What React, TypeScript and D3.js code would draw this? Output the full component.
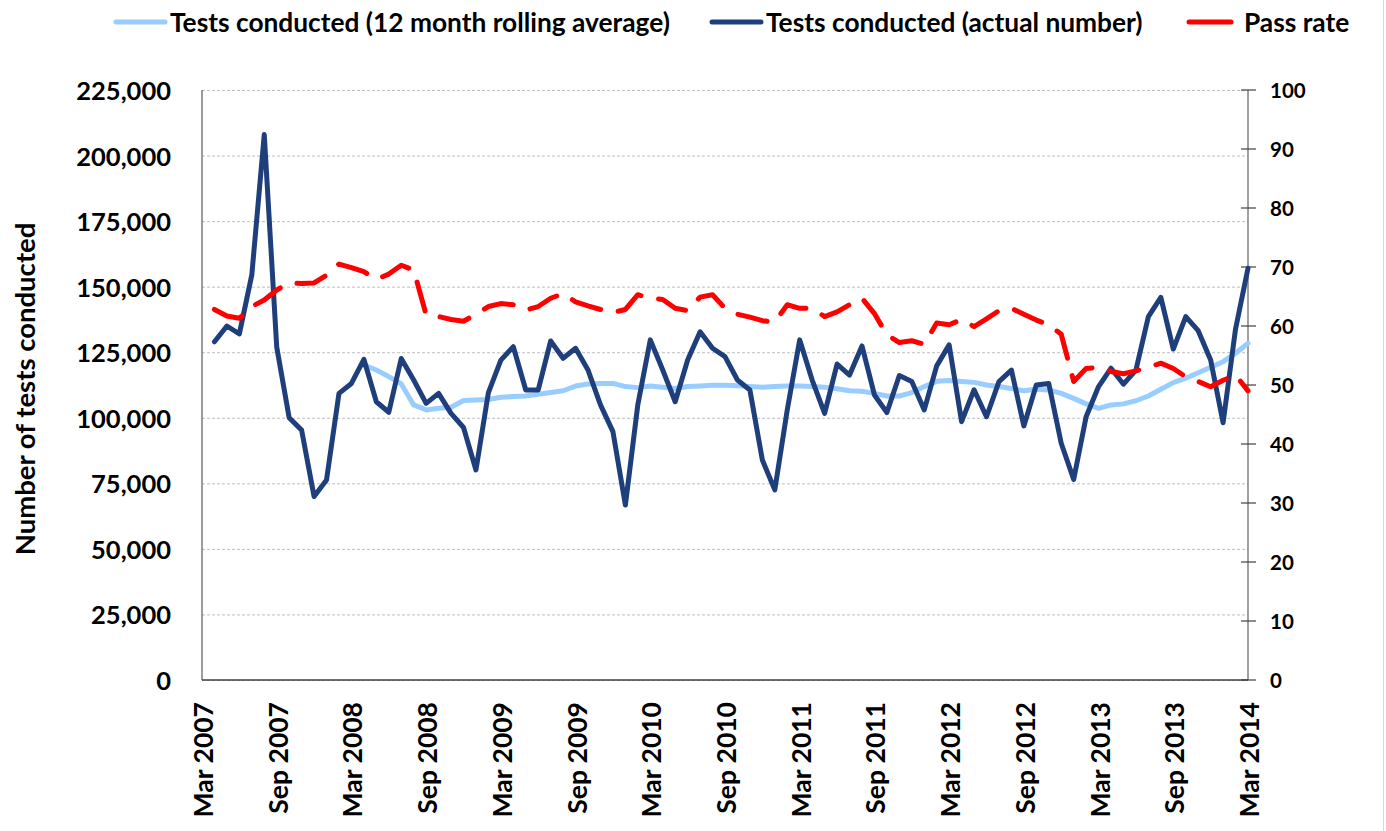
import React from "react";
import * as d3 from "d3";

// Month index 0 = Mar 2007 ... 84 = Mar 2014
const tickLabels = [
  "Mar 2007", "Sep 2007", "Mar 2008", "Sep 2008", "Mar 2009", "Sep 2009", "Mar 2010", "Sep 2010",
  "Mar 2011", "Sep 2011", "Mar 2012", "Sep 2012", "Mar 2013", "Sep 2013", "Mar 2014",
];

// Tests conducted (actual number), Apr 2007 (index 1) .. Mar 2014 (index 84)
const actualStart = 1;
const actualTests = [
  129000, 135000, 132000, 154500, 208000, 127000, 100000, 95300, 70000, 76300, 109300, 113100,
  122300, 106100, 102100, 122600, 114400, 105500, 109300, 101700, 96300, 80100, 109600, 122000,
  127100, 110600, 110600, 129300, 122700, 126500, 118200, 104900, 94700, 66700, 105000, 129700,
  118200, 106100, 122000, 132800, 126500, 123300, 114400, 110600, 83900, 72500, 103000, 129700,
  114400, 101700, 120500, 116300, 127400, 108700, 102000, 116100, 113800, 103000, 119800, 127800,
  98500, 110700, 100400, 113800, 118200, 96900, 112500, 113100, 90300, 76500, 100400, 111900,
  118900, 112800, 118200, 138600, 145900, 126200, 138600, 133200, 122000, 98100, 133900, 157000,
];

// 12 month rolling average, Apr 2008 (index 13) .. Mar 2014
const rollingStart = 13;
const rollingTests = [
  120100, 118200, 115700, 112900, 104900, 103000, 103600, 104000, 106600, 106800, 107000, 107800,
  108100, 108300, 109000, 109600, 110300, 112100, 112900, 113100, 113100, 111900, 111500, 112100,
  111600, 111200, 111900, 112100, 112400, 112400, 112200, 111900, 111600, 111900, 112100, 112100,
  111900, 111600, 111100, 110300, 110100, 109300, 108300, 108300, 109600, 111900, 113900, 114200,
  113800, 113500, 112500, 111900, 111200, 110300, 110900, 110600, 109300, 107400, 105300, 103600,
  104900, 105300, 106500, 108300, 110900, 113400, 115100, 117200, 119300, 121400, 124600, 128400,
];

// Pass rate (%), Apr 2007 .. Mar 2014
const passStart = 1;
const passRate = [
  62.8, 61.7, 61.3, 63.3, 64.4, 66.1, 67.3, 67.2, 67.3, 68.6, 70.5, 69.9,
  69.2, 67.9, 68.8, 70.3, 69.5, 61.9, 61.6, 61.1, 60.8, 62.0, 63.3, 63.8,
  63.6, 62.7, 63.3, 64.7, 65.5, 64.1, 63.4, 62.8, 62.3, 62.8, 65.3, 64.7,
  64.5, 63.0, 62.6, 64.9, 65.3, 63.0, 62.0, 61.5, 60.9, 60.7, 63.6, 63.0,
  63.0, 61.6, 62.4, 63.6, 64.7, 62.1, 58.5, 57.2, 57.5, 56.9, 60.5, 60.2,
  61.1, 59.9, 61.2, 62.6, 63.0, 62.0, 61.0, 60.2, 58.6, 50.6, 52.8, 53.0,
  52.3, 51.9, 52.4, 53.0, 53.7, 52.8, 51.4, 50.6, 49.7, 50.8, 51.7, 49.0,
];

const leftTicks = [0, 25000, 50000, 75000, 100000, 125000, 150000, 175000, 200000, 225000];
const rightTicks = [0, 10, 20, 30, 40, 50, 60, 70, 80, 90, 100];

const W = 1386;
const H = 831;
const M = { left: 202, right: 1248, top: 90, bottom: 680 };
const FONT = "Lato, 'Open Sans', sans-serif";

export default function App() {
  const x = d3.scaleLinear().domain([0, 84]).range([M.left, M.right]);
  const yL = d3.scaleLinear().domain([0, 225000]).range([M.bottom, M.top]);
  const yR = d3.scaleLinear().domain([0, 100]).range([M.bottom, M.top]);

  const pts = (arr: number[], start: number) => arr.map((v, k) => [start + k, v] as [number, number]);

  const lineL = d3.line<[number, number]>().x((d) => x(d[0])).y((d) => yL(d[1]));
  const lineR = d3.line<[number, number]>().x((d) => x(d[0])).y((d) => yR(d[1]));

  const fmt = d3.format(",");

  const navy = "#1F3E7C";
  const light = "#99CCFF";
  const red = "#FF0000";

  return (
    <svg
      width={W}
      height={H}
      style={{ position: "absolute", left: 0, top: 0, display: "block", background: "#fff" }}
      fontFamily={FONT}
    >
      <rect x={0} y={0} width={W} height={H} fill="#fff" />
      <line x1={1383.5} x2={1383.5} y1={0} y2={H} stroke="#D9D9D9" strokeWidth={1} />

      {/* gridlines */}
      {leftTicks.map((t) => (
        <line
          key={"g" + t}
          x1={M.left}
          x2={M.right}
          y1={yL(t) + 0.5}
          y2={yL(t) + 0.5}
          stroke="#BFBFBF"
          strokeWidth={1}
          strokeDasharray="3,2"
        />
      ))}

      {/* left axis labels */}
      {leftTicks.map((t) => (
        <text
          key={"l" + t}
          x={171}
          y={yL(t)}
          textAnchor="end"
          dominantBaseline="central"
          fontSize={25.5}
          fontWeight="bold"
          fill="#000"
        >
          {fmt(t)}
        </text>
      ))}

      {/* right axis */}
      <line x1={M.right} x2={M.right} y1={M.top} y2={M.bottom} stroke="#808080" strokeWidth={1.5} />
      {rightTicks.map((t) => (
        <g key={"r" + t}>
          <line x1={M.right - 7} x2={M.right + 8} y1={yR(t)} y2={yR(t)} stroke="#404040" strokeWidth={1.2} />
          <text
            x={1270}
            y={yR(t)}
            textAnchor="start"
            dominantBaseline="central"
            fontSize={20.5}
            fontWeight="bold"
            fill="#000"
          >
            {t}
          </text>
        </g>
      ))}

      {/* left + bottom axis */}
      <line x1={M.left} x2={M.left} y1={M.top} y2={M.bottom} stroke="#595959" strokeWidth={1.2} />
      <line x1={M.left} x2={M.right} y1={M.bottom} y2={M.bottom} stroke="#404040" strokeWidth={1.5} />

      {/* x labels */}
      {tickLabels.map((lab, k) => (
        <text
          key={lab}
          transform={`translate(${x(k * 6) + 1},702) rotate(-90)`}
          textAnchor="end"
          dominantBaseline="central"
          fontSize={26.5}
          fontWeight="bold"
          fill="#000"
        >
          {lab}
        </text>
      ))}

      {/* y title */}
      <text
        transform="translate(24,389) rotate(-90)"
        textAnchor="middle"
        dominantBaseline="central"
        fontSize={27.5}
        fontWeight="bold"
        fill="#000"
      >
        Number of tests conducted
      </text>

      {/* series */}
      <path
        d={lineL(pts(rollingTests, rollingStart)) || ""}
        fill="none"
        stroke={light}
        strokeWidth={5}
        strokeLinejoin="round"
        strokeLinecap="round"
      />
      <path
        d={lineL(pts(actualTests, actualStart)) || ""}
        fill="none"
        stroke={navy}
        strokeWidth={5}
        strokeLinejoin="round"
        strokeLinecap="round"
      />
      <path
        d={lineR(pts(passRate, passStart)) || ""}
        fill="none"
        stroke={red}
        strokeWidth={5}
        strokeLinejoin="round"
        strokeLinecap="round"
        strokeDasharray="30,18"
      />

      {/* legend */}
      <g fontSize={26.3} fontWeight="bold" fill="#000">
        <line x1={116} x2={165} y1={22} y2={22} stroke={light} strokeWidth={5} strokeLinecap="round" />
        <text x={170} y={22} dominantBaseline="central">
          Tests conducted (12 month rolling average)
        </text>
        <line x1={712} x2={761} y1={22} y2={22} stroke={navy} strokeWidth={5} strokeLinecap="round" />
        <text x={766} y={22} dominantBaseline="central">
          Tests conducted (actual number)
        </text>
        <line x1={1189} x2={1231} y1={22} y2={22} stroke={red} strokeWidth={5} strokeLinecap="round" />
        <text x={1244} y={22} dominantBaseline="central">
          Pass rate
        </text>
      </g>
    </svg>
  );
}
